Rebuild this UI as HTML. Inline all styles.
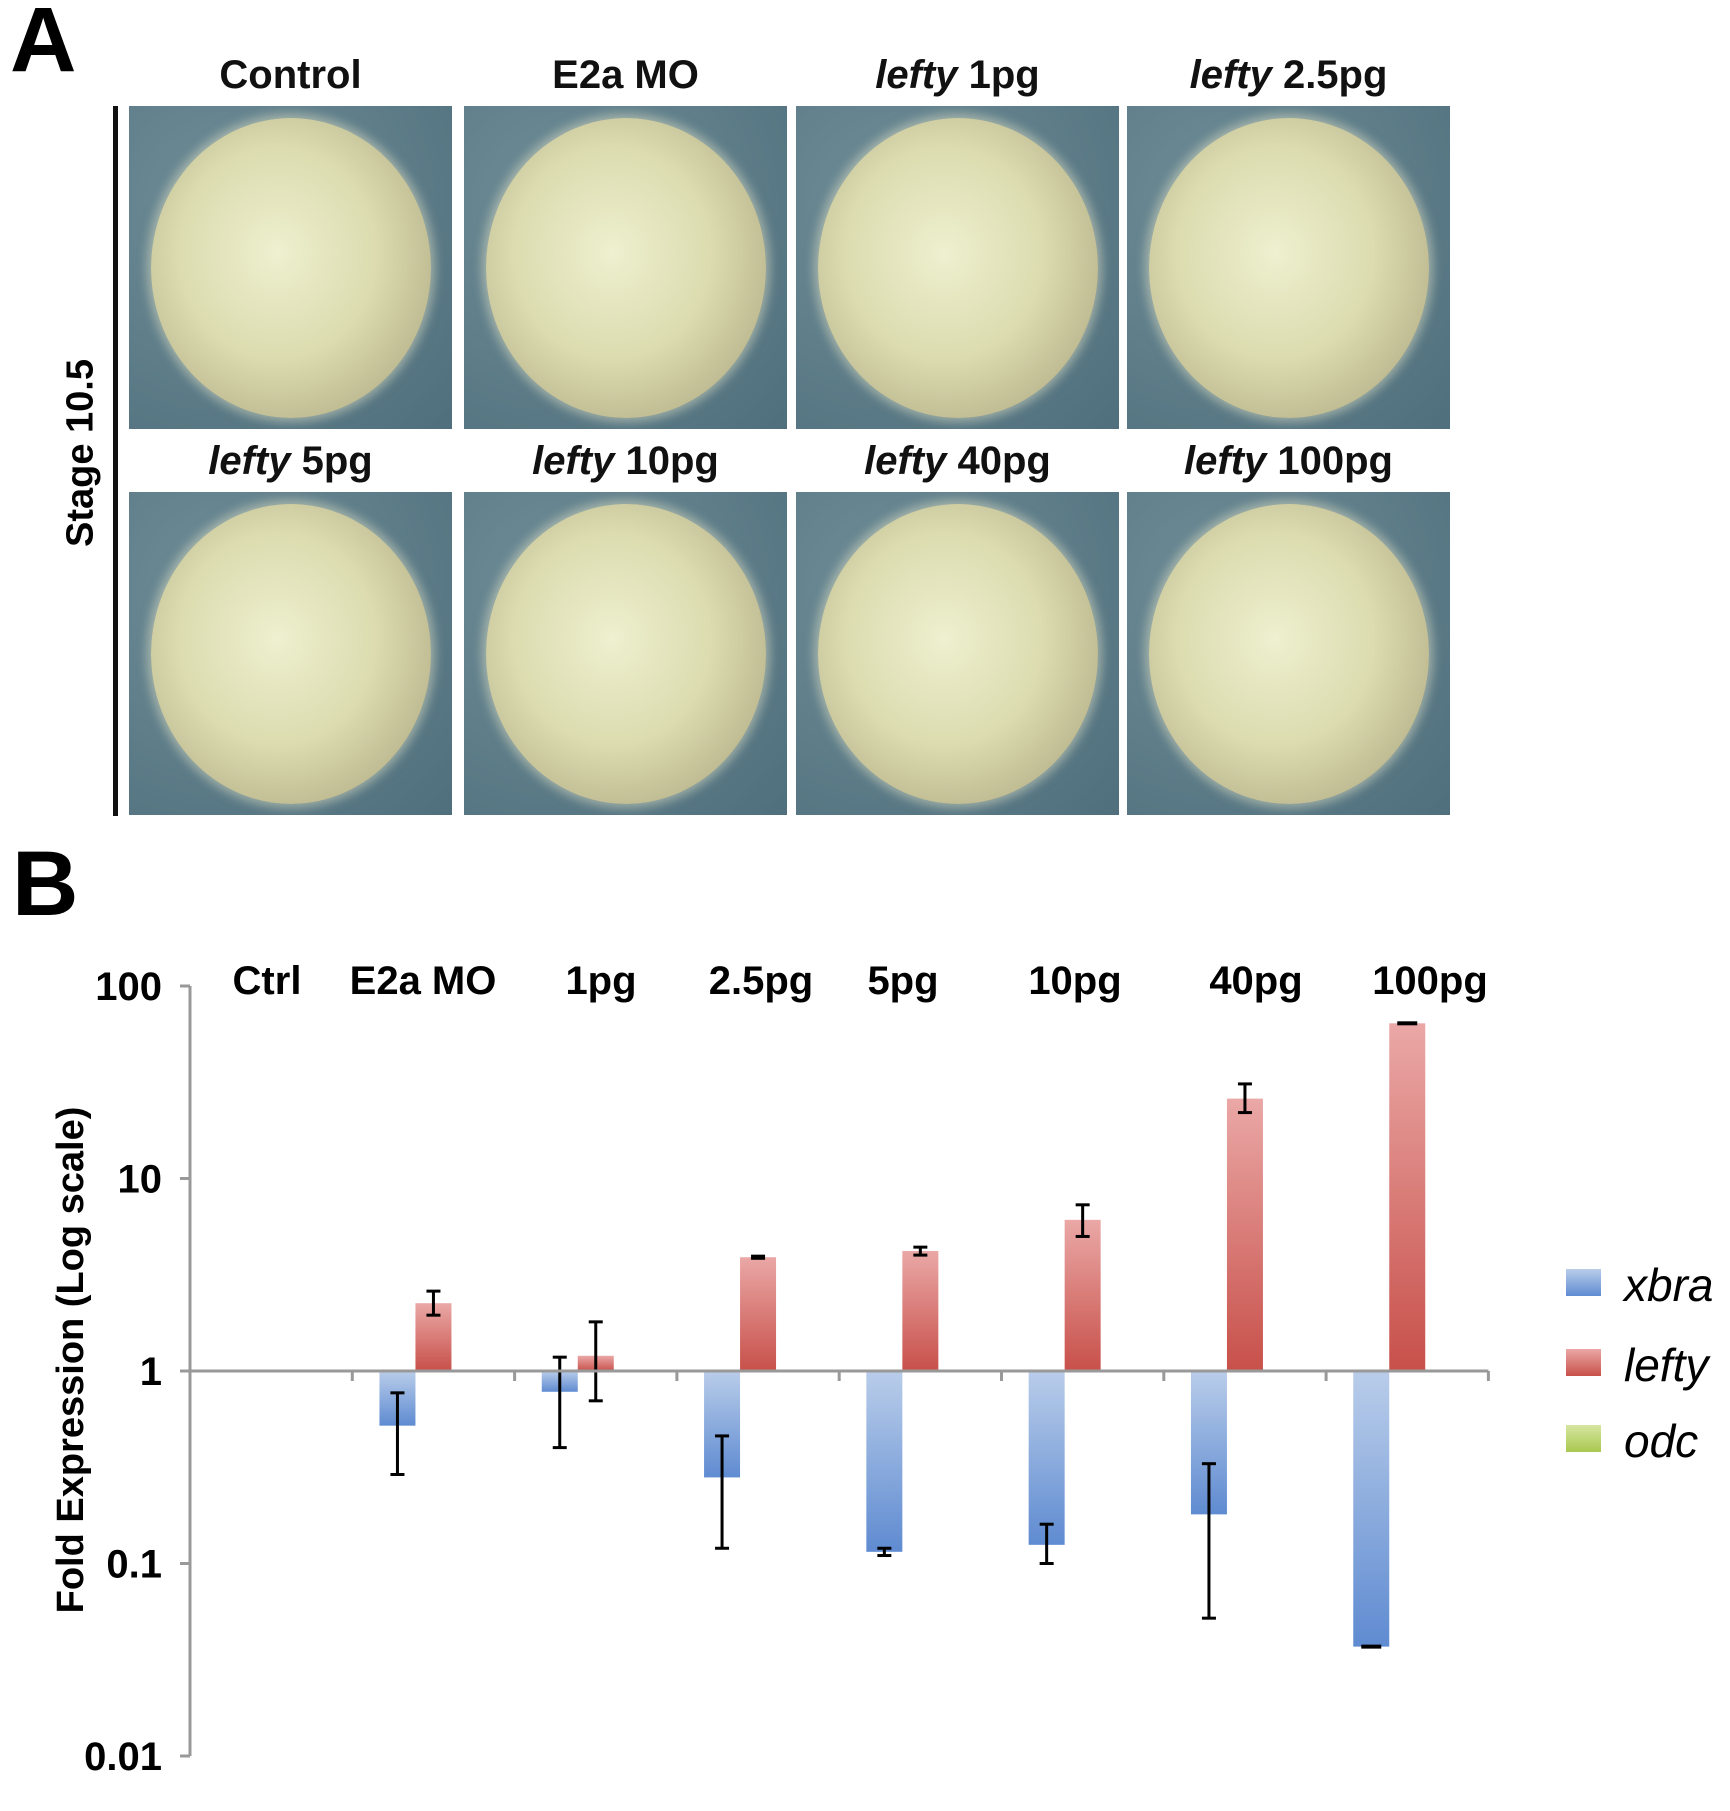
<!DOCTYPE html>
<html><head><meta charset="utf-8">
<style>
body{margin:0;background:#fff;width:1730px;height:1811px;overflow:hidden;position:relative;font-family:"Liberation Sans",Arial,sans-serif}
.abs{position:absolute}
.tile{position:absolute;width:323px;height:323px;background:radial-gradient(circle at 30% 30%,#6f8d97,#4f6f7d);overflow:hidden}
.egg{position:absolute;left:22px;top:12px;width:280px;height:300px;border-radius:50%;
background:radial-gradient(ellipse at 45% 45%,#eef0cf 0%,#dcdcb0 45%,#b9b48c 80%,#8e8c78 100%);box-shadow:0 0 10px 4px rgba(230,230,200,.5)}
.lab{position:absolute;font-weight:bold;font-size:40px;text-align:center;width:323px;color:#111}
</style></head><body>
<div class="abs" style="left:10px;top:-12px;font-size:92px;font-weight:bold">A</div>
<div class="abs" style="left:12px;top:832px;font-size:92px;font-weight:bold">B</div>
<div class="abs" style="left:113px;top:106px;width:5px;height:710px;background:#111"></div>
<div class="abs" style="left:81px;top:453px;transform:translate(-50%,-50%) rotate(-90deg);font-size:38px;font-weight:bold;white-space:nowrap">Stage 10.5</div>
<div id="tiles"></div>
<svg id="chart" class="abs" style="left:0;top:0" width="1730" height="1811"></svg>
<script>
const colLabels=[["","Control"],["","E2a MO"],["lefty"," 1pg"],["lefty"," 2.5pg"],["lefty"," 5pg"],["lefty"," 10pg"],["lefty"," 40pg"],["lefty"," 100pg"]];
const tx=[129,464,796,1127], ty=[106,492];
const tiles=document.getElementById('tiles');
colLabels.forEach((c,i)=>{
  const r=Math.floor(i/4),k=i%4;
  const t=document.createElement('div');t.className='tile';
  
  
  t.style.left=tx[k]+'px';t.style.top=ty[r]+'px';
  t.innerHTML='<div class="egg"></div>';tiles.appendChild(t);
  const l=document.createElement('div');l.className='lab';
  
  
  l.style.left=tx[k]+'px';l.style.top=(ty[r]-53)+'px';
  l.innerHTML=(c[0]?'<i>'+c[0]+'</i>':'')+c[1];tiles.appendChild(l);
});

const categories=["Ctrl","E2a MO","1pg","2.5pg","5pg","10pg","40pg","100pg"];
const xbra=[1,0.52,0.78,0.28,0.115,0.125,0.18,0.037];
const xbraLo=[1,0.29,0.4,0.12,0.11,0.1,0.052,0.037];
const xbraHi=[1,0.77,1.18,0.46,0.12,0.16,0.33,0.037];
const lefty=[1,2.25,1.2,3.9,4.2,6.1,26,64];
const leftyLo=[1,1.95,0.7,3.85,4.0,5.0,22,64];
const leftyHi=[1,2.6,1.8,3.95,4.4,7.3,31,64];
const odc=[1,1,1,1,1,1,1,1];
const yTicks=[100,10,1,0.1,0.01];
const yTickLabels=["100","10","1","0.1","0.01"];

const svg=document.getElementById('chart');const NS='http://www.w3.org/2000/svg';
function el(t,a,p){const e=document.createElementNS(NS,t);for(const k in a)e.setAttribute(k,a[k]);(p||svg).appendChild(e);return e;}
const X0=190,GW=162.3,BW=36,Y1=1371,DEC=192.5;
const y=v=>Y1-Math.log10(v)*DEC;
const gx=i=>X0+i*GW;
const bx=(i,s)=>gx(i)+(GW-3*BW)/2+s*BW;
const defs=el('defs',{});
let g=el('linearGradient',{id:'gr',x1:0,y1:0,x2:0,y2:1},defs);
el('stop',{offset:0,'stop-color':'#eaa8a6'},g);el('stop',{offset:1,'stop-color':'#c8504a'},g);
g=el('linearGradient',{id:'gb',x1:0,y1:0,x2:0,y2:1},defs);
el('stop',{offset:0,'stop-color':'#b9cdea'},g);el('stop',{offset:1,'stop-color':'#5f8bd1'},g);
g=el('linearGradient',{id:'gg',x1:0,y1:0,x2:0,y2:1},defs);
el('stop',{offset:0,'stop-color':'#d6e6a0'},g);el('stop',{offset:1,'stop-color':'#a9c84f'},g);

// axes
let e=el('line',{x1:X0,y1:y(100),x2:X0,y2:y(0.01),stroke:'#999','stroke-width':3});

yTicks.forEach((v,i)=>{
  el('line',{x1:X0-10,y1:y(v),x2:X0,y2:y(v),stroke:'#999','stroke-width':3});
  const t=el('text',{x:162,y:y(v)+14,'text-anchor':'end','font-size':40,'font-weight':'bold'});
  
  t.textContent=yTickLabels[i];
});
const yt=el('text',{x:0,y:0,transform:'translate(83,1360) rotate(-90)','text-anchor':'middle','font-size':38,'font-weight':'bold'});

yt.textContent='Fold Expression (Log scale)';

function bar(i,s,v,fill,name){
  const top=Math.min(y(v),Y1),h=Math.max(Math.abs(y(v)-Y1),2);
  const r=el('rect',{x:bx(i,s),y:v===1?Y1-1:top,width:BW,height:h,fill:v===1?'#aaa':fill});
  
}
function err(i,s,lo,hi){
  if(lo===hi)return;
  const cx=bx(i,s)+BW/2;
  el('line',{x1:cx,y1:y(hi),x2:cx,y2:y(lo),stroke:'#000','stroke-width':3});
  el('line',{x1:cx-7,y1:y(hi),x2:cx+7,y2:y(hi),stroke:'#000','stroke-width':3});
  el('line',{x1:cx-7,y1:y(lo),x2:cx+7,y2:y(lo),stroke:'#000','stroke-width':3});
}
categories.forEach((c,i)=>{
  bar(i,0,xbra[i],'url(#gb)','bar-xbra-'+i);
  bar(i,1,lefty[i],'url(#gr)','bar-lefty-'+i);
  bar(i,2,odc[i],'url(#gg)','bar-odc-'+i);
  err(i,0,xbraLo[i],xbraHi[i]);err(i,1,leftyLo[i],leftyHi[i]);
  if(xbra[i]===xbraLo[i]&&i>0&&xbra[i]!==1)el('rect',{x:bx(i,0)+8,y:y(xbra[i])-2,width:20,height:4,fill:'#000'});
  if(lefty[i]===leftyHi[i]&&lefty[i]!==1)el('rect',{x:bx(i,1)+8,y:y(lefty[i])-2,width:20,height:4,fill:'#000'});
  const t=el('text',{x:gx(i)+GW/2-[ -4,10,-2,-8,5,10,10,10][i]*0,y:994,'text-anchor':'middle','font-size':40,'font-weight':'bold'});
  t.setAttribute('x',[267,423,601,761,903,1075,1256,1430][0]===267?[267,423,601,761,903,1075,1256,1430][i]:gx(i)+GW/2);
  
  t.textContent=c;
});
e=el('line',{x1:X0,y1:Y1,x2:X0+8*GW,y2:Y1,stroke:'#999','stroke-width':3});

for(let i=1;i<=8;i++)el('line',{x1:gx(i),y1:Y1,x2:gx(i),y2:Y1+10,stroke:'#999','stroke-width':3});

const legNames=["xbra","lefty","odc"],legFill=['url(#gb)','url(#gr)','url(#gg)'],legY=[1269,1349,1425];
legNames.forEach((n,i)=>{
  const r=el('rect',{x:1566,y:legY[i],width:35,height:27,fill:legFill[i]});
  
  const t=el('text',{x:1624,y:legY[i]+32,'font-size':46,'font-style':'italic'});
  
  t.textContent=n;
});
</script>
</body></html>
